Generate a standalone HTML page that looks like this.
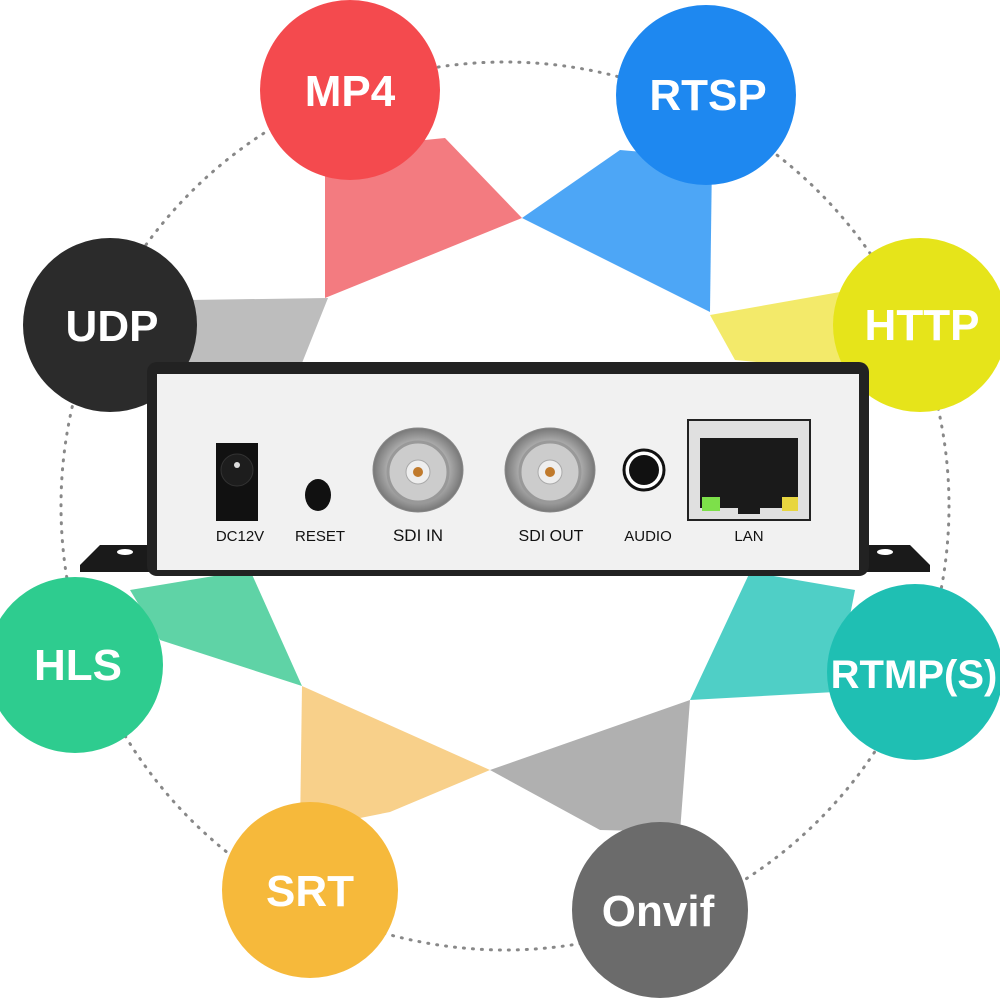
<!DOCTYPE html>
<html><head><style>
body{margin:0;width:1000px;height:1000px;background:#fff;overflow:hidden;font-family:"Liberation Sans",sans-serif}
</style></head><body>
<svg width="1000" height="1000" viewBox="0 0 1000 1000">
<defs>
<radialGradient id="bnc" cx="50%" cy="50%" r="50%"><stop offset="0" stop-color="#fff"/><stop offset="0.6" stop-color="#bbb"/><stop offset="1" stop-color="#777"/></radialGradient>
</defs>
<circle cx="505" cy="506" r="444" fill="none" stroke="#888" stroke-width="3" stroke-dasharray="1 8" stroke-linecap="round"/>
<polygon points="325,150 445,138 522,218 325,298" fill="#f26d72" opacity="0.9"/>
<polygon points="522,218 620,150 712,158 710,312" fill="#3a9cf5" opacity="0.9"/>
<polygon points="710,315 840,292 862,372 735,360" fill="#f3ea6a"/>
<polygon points="190,300 328,298 300,368 188,368" fill="#bdbdbd"/>
<polygon points="130,590 250,570 302,686 160,640" fill="#5fd3a6"/>
<polygon points="302,686 490,770 390,812 300,830" fill="#f8d08a"/>
<polygon points="490,770 690,700 680,832 600,830" fill="#b0b0b0"/>
<polygon points="690,700 750,572 855,590 835,692" fill="#4fcfc6"/>
<g font-weight="bold" fill="#fff" text-anchor="middle" font-size="44">
<circle cx="350" cy="90" r="90" fill="#f44a4e"/><text x="350" y="106">MP4</text>
<circle cx="706" cy="95" r="90" fill="#1e88f0"/><text x="708" y="110">RTSP</text>
<circle cx="920" cy="325" r="87" fill="#e6e41a"/><text x="922" y="340">HTTP</text>
<circle cx="110" cy="325" r="87" fill="#2b2b2b"/><text x="112" y="341">UDP</text>
<circle cx="75" cy="665" r="88" fill="#2ecc8f"/><text x="78" y="680">HLS</text>
<circle cx="915" cy="672" r="88" fill="#1fbfb3"/><text x="914" y="688" font-size="40">RTMP(S)</text>
<circle cx="310" cy="890" r="88" fill="#f6b93b"/><text x="310" y="906">SRT</text>
<circle cx="660" cy="910" r="88" fill="#6b6b6b"/><text x="658" y="926">Onvif</text>
</g>
<!-- feet -->
<path d="M80,565 L100,545 L150,545 L150,572 L80,572Z" fill="#1a1a1a"/>
<path d="M930,565 L910,545 L860,545 L860,572 L930,572Z" fill="#1a1a1a"/>
<ellipse cx="125" cy="552" rx="8" ry="3" fill="#fff"/><ellipse cx="885" cy="552" rx="8" ry="3" fill="#fff"/>
<!-- body -->
<rect x="147" y="362" width="722" height="214" rx="10" fill="#222"/>
<rect x="157" y="374" width="702" height="196" fill="#f1f1f1"/>
<!-- DC -->
<rect x="216" y="443" width="42" height="78" fill="#111"/>
<circle cx="237" cy="470" r="16" fill="#1d1d1d" stroke="#333"/>
<circle cx="237" cy="465" r="3" fill="#ddd"/>
<ellipse cx="318" cy="495" rx="13" ry="16" fill="#111"/>
<!-- BNC -->
<g>
<ellipse cx="418" cy="470" rx="45" ry="42" fill="url(#bnc)" stroke="#888"/>
<ellipse cx="418" cy="472" rx="30" ry="30" fill="#ccc" stroke="#999" stroke-width="3"/>
<circle cx="418" cy="472" r="12" fill="#eee" stroke="#aaa"/>
<circle cx="418" cy="472" r="5" fill="#c07a2c"/>
<ellipse cx="550" cy="470" rx="45" ry="42" fill="url(#bnc)" stroke="#888"/>
<ellipse cx="550" cy="472" rx="30" ry="30" fill="#ccc" stroke="#999" stroke-width="3"/>
<circle cx="550" cy="472" r="12" fill="#eee" stroke="#aaa"/>
<circle cx="550" cy="472" r="5" fill="#c07a2c"/>
</g>
<circle cx="644" cy="470" r="20" fill="#fff" stroke="#111" stroke-width="3"/>
<circle cx="644" cy="470" r="15" fill="#111"/>
<rect x="688" y="420" width="122" height="100" fill="#e0e0e0" stroke="#222" stroke-width="2"/>
<rect x="700" y="438" width="98" height="70" fill="#1a1a1a"/>
<rect x="738" y="508" width="22" height="6" fill="#1a1a1a"/>
<rect x="702" y="497" width="18" height="14" fill="#7de04a"/>
<rect x="782" y="497" width="16" height="14" fill="#e8d640"/>
<g font-size="15" fill="#111" text-anchor="middle">
<text x="240" y="541">DC12V</text><text x="320" y="541">RESET</text>
<text x="418" y="541" font-size="17">SDI IN</text><text x="551" y="541" font-size="16">SDI OUT</text>
<text x="648" y="541">AUDIO</text><text x="749" y="541">LAN</text>
</g>
</svg>
</body></html>
